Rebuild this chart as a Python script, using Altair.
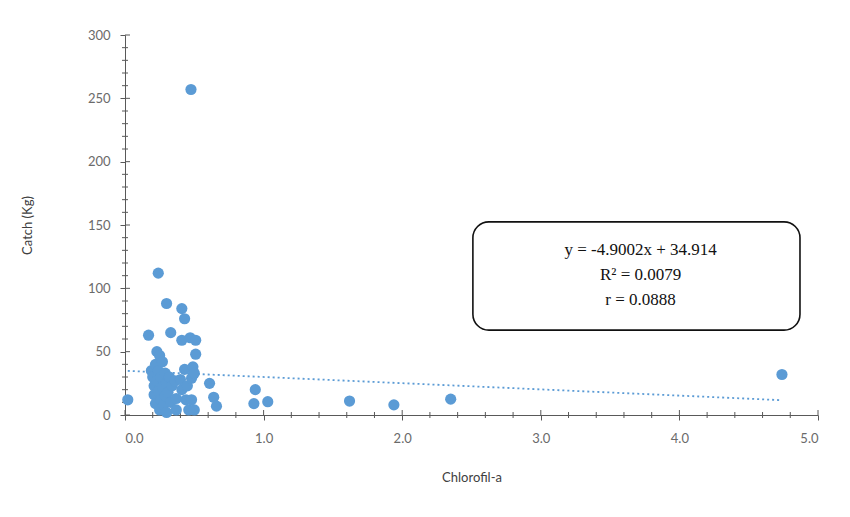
import altair as alt
import pandas as pd

# ---- data ----
chl = [0.02, 0.476, 0.24, 0.30, 0.41, 0.43, 0.17, 0.33, 0.41, 0.47, 0.51, 0.51, 0.23, 0.25,
       0.19, 0.20, 0.21, 0.21, 0.22, 0.22, 0.23, 0.24, 0.24, 0.25, 0.26, 0.26, 0.27, 0.27,
       0.28, 0.29, 0.29, 0.30, 0.30, 0.31, 0.32, 0.33, 0.34, 0.36, 0.37, 0.37, 0.40, 0.41,
       0.43, 0.44, 0.45, 0.46, 0.48, 0.48, 0.49, 0.50, 0.50,
       0.61, 0.64, 0.66, 0.94, 0.93, 1.03, 1.62, 1.94, 2.35, 4.74]
catch = [12, 257, 112, 88, 84, 76, 63, 65, 59, 61, 59, 48, 50, 47,
         35, 30, 23, 16, 40, 9, 27, 35, 19, 4, 12, 30, 42, 22,
         8, 15, 33, 2, 25, 18, 30, 10, 23, 27, 13, 4, 28, 20,
         36, 12, 23, 4, 12, 29, 38, 4, 33,
         25, 14, 7, 20, 9, 10.5, 11, 8, 12.5, 32]

slope = -4.9002
intercept = 34.914
eq_lines = ["y = -4.9002x + 34.914", "R² = 0.0079", "r = 0.0888"]

x_major = [0, 1, 2, 3, 4, 5]
x_minor = [0.2, 0.4, 0.6, 0.8, 1.2, 1.4, 1.6, 1.8, 2.2, 2.4, 2.6, 2.8,
           3.2, 3.4, 3.6, 3.8, 4.2, 4.4, 4.6, 4.8]
y_major = [0, 50, 100, 150, 200, 250, 300]
y_minor = [v for v in range(0, 301, 10) if v % 50 != 0]

# annotation box (data coordinates) and text anchor rows
box = pd.DataFrame({"x1": [2.51], "x2": [4.87], "y1": [67.0], "y2": [152.5]})
txt = pd.DataFrame({"x": [3.72, 3.72, 3.72], "y": [130.5, 110.5, 90.8], "t": eq_lines})

W, H = 693, 380
AX = "#595959"

pts = pd.DataFrame({"Chlorofil-a": chl, "Catch": catch})
xmin, xmax = min(chl), max(chl)
trend = pd.DataFrame({"x": [xmin, xmax],
                      "y": [slope * xmin + intercept, slope * xmax + intercept]})

xs = alt.Scale(domain=[0, 5], nice=False, zero=False)
ys = alt.Scale(domain=[0, 300], nice=False)

xaxis = alt.Axis(values=x_major, format=".1f", grid=False, tickSize=5, tickColor=AX,
                 domainColor=AX, labelPadding=12, labelColor="#6a6a6a", labelFontSize=13,
                 title="Chlorofil-a", titleX=W / 2, titleY=62, titleBaseline="middle",
                 titleFontWeight="normal", titleFontSize=13, titleColor="#404040")
yaxis = alt.Axis(values=y_major, grid=False, tickSize=5, tickColor=AX, domainColor=AX,
                 labelPadding=10, labelColor="#6a6a6a", labelFontSize=13,
                 title="Catch (Kg)", titleX=-98, titleY=H / 2, titleAngle=-90,
                 titleAlign="center", titleBaseline="middle",
                 titleFontWeight="normal", titleFontSize=13, titleColor="#404040")

points = alt.Chart(pts).mark_circle(size=125, color="#5b9bd5", opacity=1).encode(
    x=alt.X("Chlorofil-a:Q", scale=xs, axis=xaxis),
    y=alt.Y("Catch:Q", scale=ys, axis=yaxis),
)

trend_line = alt.Chart(trend).mark_line(color="#5b9bd5", strokeDash=[2, 3], strokeWidth=1.8).encode(
    x=alt.X("x:Q", scale=xs), y=alt.Y("y:Q", scale=ys)
)

ymin_rules = alt.Chart(pd.DataFrame({"v": y_minor})).mark_rule(color=AX, strokeWidth=1).encode(
    y=alt.Y("v:Q", scale=ys), x=alt.value(-3), x2=alt.value(3)
)
ymaj_rules = alt.Chart(pd.DataFrame({"v": y_major})).mark_rule(color=AX, strokeWidth=1).encode(
    y=alt.Y("v:Q", scale=ys), x=alt.value(0), x2=alt.value(5)
)
xmin_rules = alt.Chart(pd.DataFrame({"v": x_minor})).mark_rule(color=AX, strokeWidth=1).encode(
    x=alt.X("v:Q", scale=xs), y=alt.value(H - 3), y2=alt.value(H + 3)
)
xmaj_rules = alt.Chart(pd.DataFrame({"v": x_major})).mark_rule(color=AX, strokeWidth=1).encode(
    x=alt.X("v:Q", scale=xs), y=alt.value(H - 5), y2=alt.value(H)
)

box_mark = alt.Chart(box).mark_rect(fill="white", stroke="#111111", strokeWidth=1.6,
                                    cornerRadius=16).encode(
    x=alt.X("x1:Q", scale=xs), x2="x2:Q", y=alt.Y("y1:Q", scale=ys), y2="y2:Q"
)
text_mark = alt.Chart(txt).mark_text(font="Liberation Serif", fontSize=17, color="#111111",
                                     align="center", baseline="middle").encode(
    x=alt.X("x:Q", scale=xs), y=alt.Y("y:Q", scale=ys), text="t:N"
)

chart = alt.layer(
    ymin_rules, ymaj_rules, xmin_rules, xmaj_rules, trend_line, points, box_mark, text_mark
).properties(
    width=W, height=H,
    autosize=alt.AutoSizeParams(type="none"),
    padding={"left": 117, "top": 27, "right": 16, "bottom": 86},
    background="white",
).configure_view(stroke=None).configure_axis(
    labelFont="Lato", titleFont="Lato"
)

chart.save("out.html", embed_options={"renderer": "svg", "actions": False})
